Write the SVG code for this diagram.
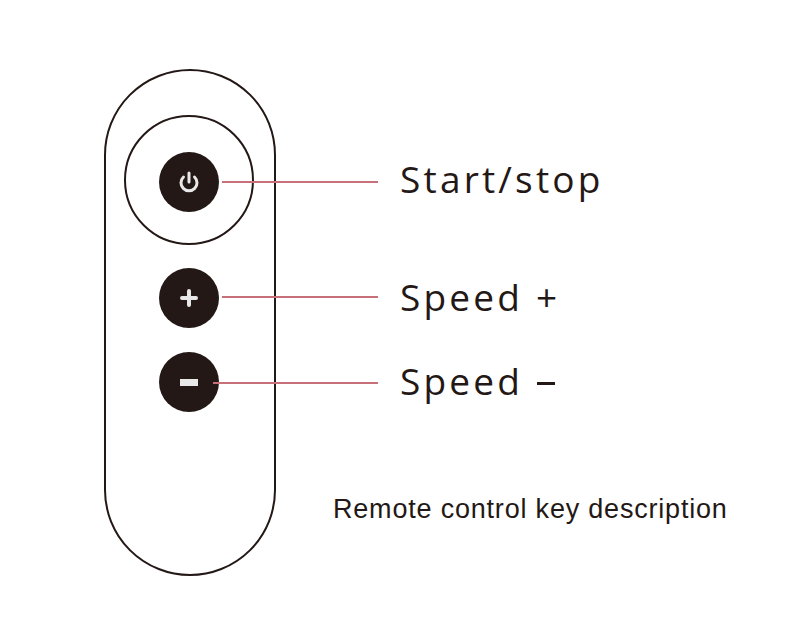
<svg xmlns="http://www.w3.org/2000/svg" width="800" height="630" viewBox="0 0 800 630">
<style>
.btn{fill:#231815}
.ic{stroke:#e8e8e8;fill:none;stroke-linecap:round}
.lbl{font-family:"Open Sans","DejaVu Sans",sans-serif;font-size:37px;fill:#231815;letter-spacing:3.2px}
.ln{stroke:#c8707a;stroke-width:2}
</style>
<rect width="800" height="630" fill="#fff"/>
<g id="remote">
<rect x="105" y="70" width="170" height="505" rx="85" fill="none" stroke="#231815" stroke-width="2"/>
<circle cx="189" cy="180" r="64" fill="none" stroke="#231815" stroke-width="2"/>
</g>
<g id="power"><circle class="btn" cx="189" cy="182" r="30"/>
<path class="ic" stroke-width="3" d="M183.5 177 A8 8 0 1 0 194.5 177"/><line class="ic" stroke-width="3" x1="189" y1="173" x2="189" y2="182"/></g>
<g id="plus"><circle class="btn" cx="189" cy="298" r="30"/>
<path class="ic" stroke-width="4" stroke-linecap="butt" d="M182 298H196M189 291V305"/></g>
<g id="minus"><circle class="btn" cx="189" cy="382" r="30"/>
<rect x="180" y="379" width="18" height="7" fill="#e8e8e8"/></g>
<g id="connectors">
<line class="ln" x1="222" y1="182" x2="378" y2="182"/>
<line class="ln" x1="222" y1="297" x2="378" y2="297"/>
<line class="ln" x1="213" y1="383" x2="378" y2="383"/>
</g>
<g id="labels">
<text class="lbl" x="400" y="193">Start/stop</text>
<text class="lbl" x="400" y="311">Speed +</text>
<text class="lbl" x="400" y="395">Speed</text>
<rect x="537" y="382" width="18" height="3" fill="#231815"/>
<text x="333" y="518" font-family="Liberation Sans,sans-serif" font-size="27" fill="#231815" letter-spacing="0.8">Remote control key description</text>
</g>
</svg>
